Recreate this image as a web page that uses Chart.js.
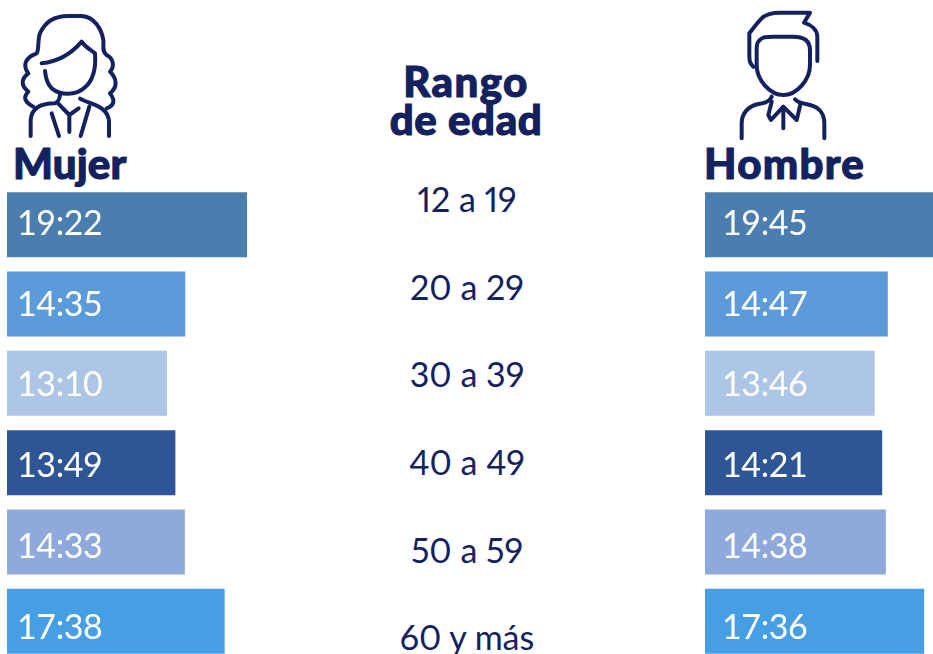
<!DOCTYPE html>
<html lang="es"><head><meta charset="utf-8">
<script src="https://cdn.jsdelivr.net/npm/chart.js@4"></script>
<style>
html,body{margin:0;padding:0;width:933px;height:654px;overflow:hidden;background:#fff;font-family:Lato,sans-serif;color:#14215F}
.abs{position:absolute;white-space:nowrap}
canvas{position:absolute}
.title{font-weight:900;font-size:42px;line-height:38px;-webkit-text-stroke:1.1px #14215F}
.range{font-size:34px;line-height:34px;left:367px;width:200px;text-align:center;transform:translateY(-50%);font-variant-numeric:proportional-nums}
svg{position:absolute;fill:none;stroke:#14215F;stroke-width:12;stroke-linecap:round;stroke-linejoin:round}
</style></head><body>
<svg style="left:0;top:0" width="260" height="270" viewBox="0 0 780 810">
<path d="M100,320 C80,310 65,295 85,275 C60,255 65,235 85,220 C70,200 70,175 110,160 C118,150 112,120 120,100 C135,65 165,48 205,48 L245,48 C285,50 305,90 310,120 C312,140 305,155 320,165 C340,175 345,200 330,215 C350,235 355,260 330,280 C345,300 345,315 320,325"/>
<path d="M125,190 C175,185 215,160 245,125 C258,145 275,150 285,160 C288,200 280,240 255,262 C225,290 180,285 155,265 C143,253 137,235 135,213"/>
<path d="M180,285 C178,300 175,305 165,310 C130,310 95,320 92,360 L92,408"/>
<path d="M240,296 C260,310 330,315 327,370 L327,408"/>
<path d="M155,340 L177,408 M268,320 L242,408 M172,308 L208,345 L236,325 M208,345 L208,396"/>
</svg>
<svg style="left:690px;top:0" width="243" height="270" viewBox="0 0 729 810">
<path d="M190,200 C178,190 178,180 178,160 L178,100 C190,85 200,70 215,55 C230,40 250,38 270,38 L360,38 L342,68 C365,75 382,90 382,110 L382,183"/>
<path d="M205,125 C215,110 230,110 250,110 L310,110 C345,110 360,125 360,150 L360,195 C360,240 320,285 280,285 C240,285 200,240 200,195 L200,150 C200,140 200,130 205,125"/>
<path d="M245,290 C240,305 225,310 205,312 C175,318 155,340 155,370 L155,415"/>
<path d="M315,298 C325,310 340,310 360,315 C390,322 403,345 403,370 L403,415"/>
<path d="M245,305 L235,345 L243,360 L280,320 L320,360 L332,310 M280,320 L280,385"/>
</svg>
<div class="abs title" style="left:13px;top:144px;letter-spacing:.2px">Mujer</div>
<div class="abs title" style="left:704px;top:144px;letter-spacing:1.3px">Hombre</div>
<div class="abs title" style="left:366px;width:200px;text-align:center;top:62px"><span style="letter-spacing:1.4px">Rango</span><br><span style="letter-spacing:.6px">de edad</span></div>
<canvas id="left" style="left:7px;top:185px" width="300" height="476"></canvas>
<canvas id="right" style="left:705px;top:185px" width="300" height="476"></canvas>
<div id="ranges"></div>
<script>
const rangos = ['12 a 19','20 a 29','30 a 39','40 a 49','50 a 59','60 y más'];
const tiempoMujer = ['19:22','14:35','13:10','13:49','14:33','17:38'];
const tiempoHombre = ['19:45','14:47','13:46','14:21','14:38','17:36'];
const coloresBarras = ['#4A7EAE','#5B9BD9','#AEC6E6','#2E5596','#8FA9DC','#479FE3'];
const rangoY = [199,287,374,462,550,637];
const etiquetaY = [39,120,200,281,362,443];

const aMinutos = t => { const [h,m] = t.split(':').map(Number); return h*60+m; };

const etiquetas = {
  id:'etiquetas',
  afterDatasetsDraw(chart, args, opts){
    const ctx = chart.ctx;
    ctx.save();
    ctx.fillStyle = '#fff';
    ctx.font = '34px Lato';
    ctx.letterSpacing = '-0.4px';
    ctx.textBaseline = 'middle';
    ctx.textAlign = 'left';
    opts.textos.forEach((t,i)=>{
      ctx.fillText(t, chart.chartArea.left + opts.sangria, etiquetaY[i]);
    });
    ctx.restore();
  }
};

function crear(id, tiempos, sangria, minimo){
  new Chart(document.getElementById(id), {
    type:'bar',
    data:{labels:rangos, datasets:[{
      data:tiempos.map(aMinutos),
      backgroundColor:coloresBarras,
      borderWidth:0,
      barPercentage:0.82,
      categoryPercentage:1
    }]},
    options:{
      indexAxis:'y',
      responsive:false,
      animation:false,
      layout:{padding:0},
      scales:{
        x:{display:false,min:minimo,max:minimo+1395,grid:{display:false}},
        y:{display:false,grid:{display:false}}
      },
      plugins:{legend:{display:false},tooltip:{enabled:false},etiquetas:{textos:tiempos,sangria}}
    },
    plugins:[etiquetas]
  });
}
crear('left',tiempoMujer,10,46);
crear('right',tiempoHombre,17,37);

const cont = document.getElementById('ranges');
rangos.forEach((r,i)=>{
  const d = document.createElement('div');
  d.className='abs range';
  d.style.top = rangoY[i]+'px';
  d.textContent = r;
  cont.appendChild(d);
});
</script>
</body></html>
